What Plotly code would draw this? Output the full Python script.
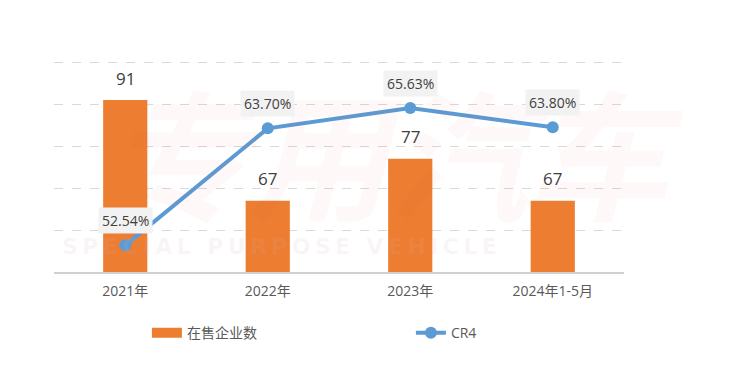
import plotly.graph_objects as go

categories = ["2021年", "2022年", "2023年", "2024年1-5月"]
enterprise_counts = [91, 67, 77, 67]
cr4_values = [52.54, 63.70, 65.63, 63.80]
bar_name = "在售企业数"
line_name = "CR4"

BAR_COLOR = "#ED7D31"
LINE_COLOR = "#5B9BD5"
FONT = "Open Sans, Noto Sans CJK SC, sans-serif"

fig = go.Figure()

fig.add_trace(go.Bar(
    x=categories, y=enterprise_counts, name=bar_name,
    marker=dict(color=BAR_COLOR, line=dict(width=0)),
    width=0.31, showlegend=False, yaxis="y",
))
# legend swatch for the bars (wide rectangle like the reference)
fig.add_trace(go.Scatter(
    x=[None], y=[None], mode="lines", name=bar_name,
    line=dict(color=BAR_COLOR, width=10), yaxis="y",
))
fig.add_trace(go.Scatter(
    x=categories, y=cr4_values, name=line_name, mode="lines+markers",
    line=dict(color=LINE_COLOR, width=4),
    marker=dict(color=LINE_COLOR, size=12),
    yaxis="y2",
))

annotations = []
# faint watermark
annotations.append(dict(
    text="<b><i>专用汽车</i></b>", x=0.6, y=0.55, xref="paper", yref="paper",
    showarrow=False, font=dict(size=140, color="rgba(240,70,70,0.04)", family=FONT),
))
thin = "\u2009"
wm = "SPECIAL PURPOSE VEHICLE"
annotations.append(dict(
    text="<b>" + thin.join(wm) + "</b>", x=0.01, y=0.12,
    xref="paper", yref="paper", xanchor="left", yanchor="middle", showarrow=False,
    font=dict(size=22, color="rgba(220,180,180,0.12)", family="DejaVu Sans, sans-serif"),
))
for c, v in zip(categories, enterprise_counts):
    annotations.append(dict(
        x=c, y=v, xref="x", yref="y", text=str(v), showarrow=False,
        yanchor="middle", yshift=22,
        font=dict(size=17, color="#404040", family=FONT),
    ))
for c, v in zip(categories, cr4_values):
    annotations.append(dict(
        x=c, y=v, xref="x", yref="y2", text=f"{v:.2f}%", showarrow=False,
        yanchor="middle", yshift=25, bgcolor="#f2f2f2", borderpad=3,
        font=dict(size=14, color="#404040", family=FONT),
    ))

fig.update_layout(
    width=750, height=390,
    margin=dict(l=46, r=134, t=53, b=126),
    paper_bgcolor="white", plot_bgcolor="white",
    font=dict(family=FONT, color="#595959"),
    xaxis=dict(
        type="category", showline=True, linecolor="#d0d0d0", linewidth=1.5,
        ticks="", showgrid=False, tickfont=dict(size=14, color="#595959"),
        ticklabelstandoff=5, fixedrange=True,
    ),
    yaxis=dict(
        range=[50, 100.3], dtick=10, showticklabels=False, showgrid=True,
        gridcolor="#d9d9d9", griddash="dash", gridwidth=1, zeroline=False,
        showline=False,
    ),
    yaxis2=dict(
        range=[50, 70.12], overlaying="y", side="right", showticklabels=False,
        showgrid=False, zeroline=False, showline=False,
    ),
    legend=dict(
        orientation="h", x=0.163, y=-0.29, xanchor="left", yanchor="middle",
        entrywidthmode="pixels", entrywidth=219,
        bgcolor="rgba(0,0,0,0)",
        font=dict(size=14, color="#595959", family=FONT),
    ),
    annotations=annotations,
)

fig.write_html("out.html")
